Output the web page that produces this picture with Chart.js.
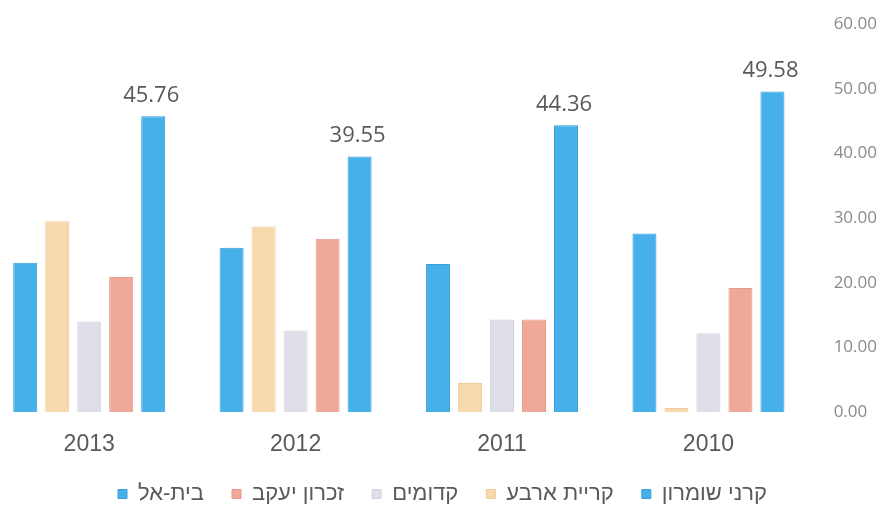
<!DOCTYPE html>
<html>
<head>
<meta charset="utf-8">
<script src="https://cdn.jsdelivr.net/npm/chart.js@4/dist/chart.umd.min.js"></script>
<style>
  html, body { margin: 0; padding: 0; background: #ffffff; overflow: hidden; }
  body { width: 892px; height: 507px; position: relative; }
  #wrap { position: absolute; left: -14px; top: -8px; width: 927px; height: 523px; }
</style>
</head>
<body>
<div id="wrap"><canvas id="chart"></canvas></div>
<script>
// Years, shown newest first
const years = ['2013', '2012', '2011', '2010'];

// Series per settlement
const karneiShomron = [23.1, 25.4, 22.9, 27.6];
const kiryatArba    = [29.5, 28.7, 4.5, 0.6];
const kedumim       = [14.0, 12.6, 14.3, 12.2];
const zichronYaakov = [20.9, 26.8, 14.3, 19.2];
const beitEl        = [45.76, 39.55, 44.36, 49.58];

const seriesNames = ['קרני שומרון', 'קריית ארבע', 'קדומים', 'זכרון יעקב', 'בית-אל'];
const yTicks = [0, 10, 20, 30, 40, 50, 60];

const fills   = ['#45b0ea', '#f8d9ae', '#dfdfea', '#f0a898', '#45b0ea'];
const borders = ['#3a9fd9', '#efcc9c', '#d2d2df', '#e69a89', '#3a9fd9'];

const seriesValues = [karneiShomron, kiryatArba, kedumim, zichronYaakov, beitEl];

// Value labels above the Beit El bars
const valueLabels = {
  id: 'valueLabels',
  afterDatasetsDraw(chart) {
    const ctx = chart.ctx;
    const idx = 4;
    const meta = chart.getDatasetMeta(idx);
    const data = chart.data.datasets[idx].data;
    ctx.save();
    ctx.font = '22px "Open Sans"';
    ctx.fillStyle = '#595959';
    ctx.textAlign = 'center';
    ctx.textBaseline = 'bottom';
    meta.data.forEach((bar, i) => {
      ctx.fillText(data[i].toFixed(2), bar.x - 2, bar.y - 10);
    });
    ctx.restore();
  }
};

new Chart(document.getElementById('chart'), {
  type: 'bar',
  data: {
    labels: years,
    datasets: seriesNames.map((name, i) => ({
      label: name,
      data: seriesValues[i],
      backgroundColor: fills[i],
      borderColor: borders[i],
      borderWidth: 1
    }))
  },
  options: {
    responsive: true,
    maintainAspectRatio: false,
    animation: false,
    categoryPercentage: 0.775,
    barPercentage: 0.75,
    layout: { padding: { top: 17, right: 14, left: 0, bottom: 0 } },
    scales: {
      x: {
        grid: { display: false, drawTicks: false },
        border: { display: false },
        afterFit(axis) { axis.height = 43; },
        ticks: {
          padding: 19,
          color: '#595959',
          font: { family: '"Liberation Sans", Arial, sans-serif', size: 23 }
        }
      },
      y: {
        position: 'right',
        min: 0,
        max: 60,
        afterBuildTicks(axis) { axis.ticks = yTicks.map(v => ({ value: v })); },
        grid: { display: false, drawTicks: false },
        border: { display: false },
        ticks: {
          padding: 22,
          color: '#8a8a8a',
          font: { family: '"Open Sans", sans-serif', size: 17 },
          callback: v => Number(v).toFixed(2)
        }
      }
    },
    plugins: {
      tooltip: { enabled: false },
      legend: {
        position: 'bottom',
        reverse: true,
        textDirection: 'rtl',
        labels: {
          boxWidth: 9,
          boxHeight: 9,
          padding: 28,
          color: '#595959',
          font: { family: '"Liberation Sans", Arial, sans-serif', size: 22 }
        }
      }
    }
  },
  plugins: [valueLabels]
});
</script>
</body>
</html>
